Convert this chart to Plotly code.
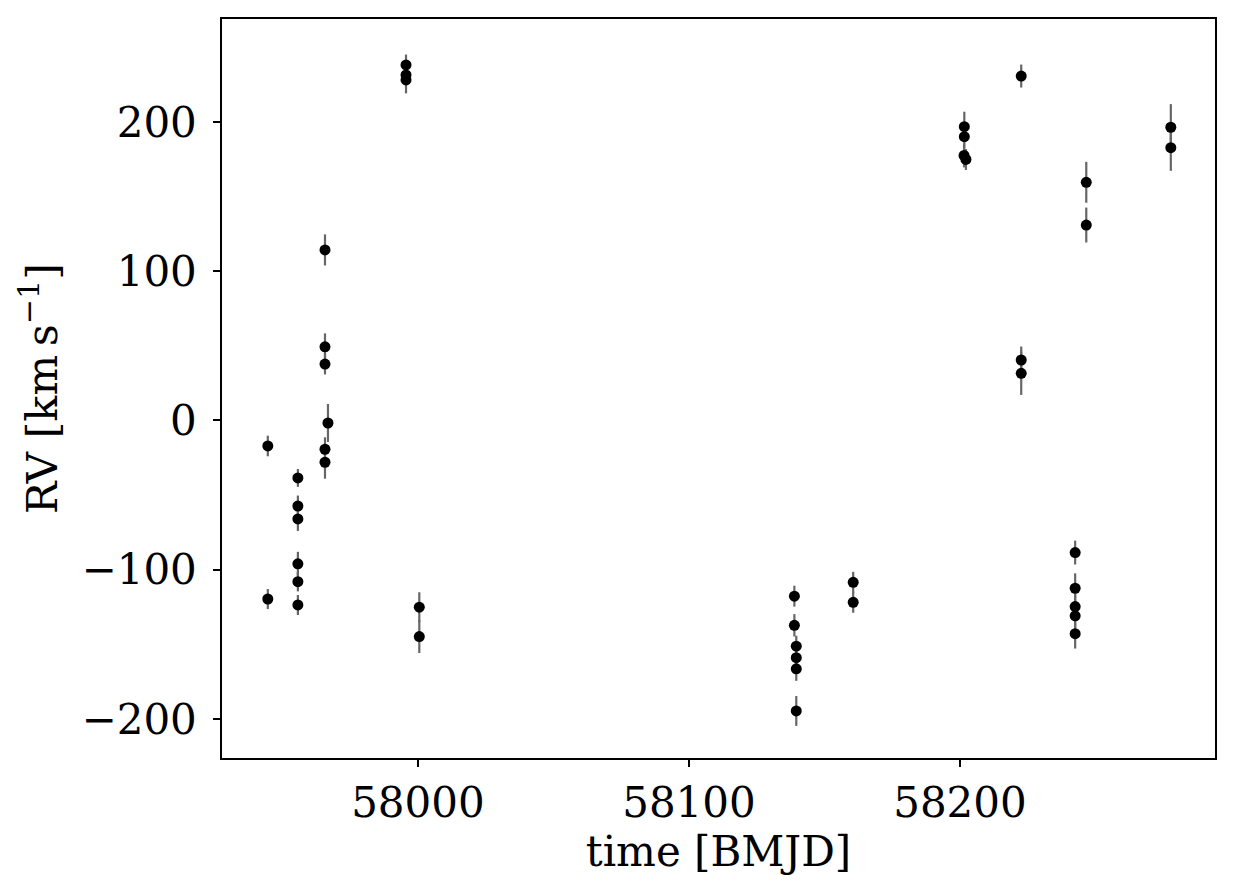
import plotly.graph_objects as go

time_bmjd = [57944.6, 57944.6,
             57955.7, 57955.7, 57955.7, 57955.7, 57955.7, 57955.7,
             57965.7, 57965.7, 57965.7, 57965.7, 57965.7, 57966.8,
             57995.6, 57995.6, 57995.6,
             58000.5, 58000.5,
             58138.9, 58138.9, 58139.6, 58139.6, 58139.6, 58139.6,
             58160.6, 58160.6,
             58201.6, 58201.6, 58201.5, 58202.2,
             58222.6, 58222.6, 58222.6,
             58242.5, 58242.5, 58242.5, 58242.5, 58242.5,
             58246.6, 58246.6,
             58277.8, 58277.8]
rv = [-17.1, -119.6,
      -38.5, -57.3, -66.0, -96.0, -108.0, -123.6,
      114.2, 49.3, 37.8, -19.3, -28.0, -1.7,
      238.1, 231.4, 228.1,
      -125.1, -144.8,
      -117.7, -137.2, -151.2, -158.9, -166.4, -194.6,
      -108.4, -121.8,
      196.8, 190.1, 177.5, 174.8,
      230.7, 40.5, 31.6,
      -88.5, -112.4, -124.7, -130.9, -142.8,
      159.5, 130.9,
      196.4, 182.7]
rv_err = [6.9, 6.7,
          6.0, 7.0, 8.0, 8.0, 6.5, 6.7,
          10.4, 9.0, 7.0, 8.0, 11.0, 12.7,
          7.0, 6.0, 9.0,
          10.0, 11.0,
          7.0, 7.5, 7.0, 6.0, 8.0, 10.0,
          7.0, 7.0,
          10.0, 8.0, 8.0, 7.0,
          7.7, 9.0, 14.5,
          8.0, 10.0, 8.0, 8.0, 10.0,
          13.7, 11.7,
          15.5, 15.5]

x_ticks = [58000, 58100, 58200]
y_ticks = [-200, -100, 0, 100, 200]
y_ticklabels = ["\u2212200", "\u2212100", "0", "100", "200"]

FONT = "DejaVu Serif"

fig = go.Figure()
fig.add_trace(go.Scatter(
    x=time_bmjd, y=rv, mode="markers",
    marker=dict(color="black", size=11, line=dict(width=0)),
    error_y=dict(type="data", array=rv_err, visible=True,
                 color="#666666", thickness=2.2, width=0),
    showlegend=False,
))

axis_common = dict(
    showline=True, linecolor="black", linewidth=1.5, mirror=True,
    ticks="outside", ticklen=7, tickwidth=1.5, tickcolor="black",
    showgrid=False, zeroline=False,
    tickfont=dict(family=FONT, size=42, color="black"),
)

fig.update_xaxes(range=[57927.7, 58294.1], tickvals=x_ticks,
                 ticktext=[str(v) for v in x_ticks],
                 title=dict(text="time [BMJD]", font=dict(family=FONT, size=42, color="black"), standoff=4),
                 ticklabelstandoff=0,
                 **axis_common)
fig.update_yaxes(range=[-226.1, 268.9], tickvals=y_ticks, ticktext=y_ticklabels,
                 title=dict(text="RV [km\u2009s<sup>\u22121</sup>]", font=dict(family=FONT, size=43, color="black"), standoff=10),
                 ticklabelstandoff=8,
                 **axis_common)

fig.update_layout(
    width=1234, height=896,
    margin=dict(l=222, r=19, t=19, b=138),
    paper_bgcolor="white", plot_bgcolor="white",
    font=dict(family=FONT, color="black"),
)

fig.write_html("out.html")
